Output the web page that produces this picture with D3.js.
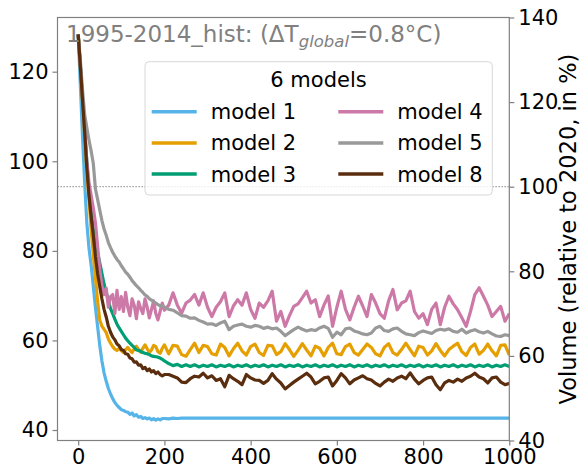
<!DOCTYPE html>
<html>
<head>
<meta charset="utf-8">
<script src="https://cdn.jsdelivr.net/npm/d3@7"></script>
<style>
  body { margin: 0; background: #fff; }
  text { font-family: "DejaVu Sans", sans-serif; }
</style>
</head>
<body>
<script>
// sampling years (5-yr steps to 200, then 10-yr steps)
const years = [
  0, 5, 10, 15, 20, 25, 30, 35, 40, 45, 50, 55, 60, 65, 70, 75, 80, 85, 90, 95,
  100, 105, 110, 115, 120, 125, 130, 135, 140, 145, 150, 155, 160, 165, 170, 175, 180, 185, 190, 195,
  200, 210, 220, 230, 240, 250, 260, 270, 280, 290, 300, 310, 320, 330, 340, 350, 360, 370, 380, 390,
  400, 410, 420, 430, 440, 450, 460, 470, 480, 490, 500, 510, 520, 530, 540, 550, 560, 570, 580, 590,
  600, 610, 620, 630, 640, 650, 660, 670, 680, 690, 700, 710, 720, 730, 740, 750, 760, 770, 780, 790,
  800, 810, 820, 830, 840, 850, 860, 870, 880, 890, 900, 910, 920, 930, 940, 950, 960, 970, 980, 990,
  1000
];

const modelNames = ["model 1", "model 2", "model 3", "model 4", "model 5", "model 8"];
const modelColors = ["#56B4E9", "#E69F00", "#009E73", "#CC79A7", "#999999", "#5a2d0e"];

// volume relative to 2020 (%)
const model1 = [
  136, 124, 112, 101, 91.5, 85.5, 81.5, 76.5, 71.5, 67, 62.5, 58.8, 56, 54, 52.3, 51, 49.9, 49, 48.3, 47.8,
  47.3, 47.1, 46.8, 46.7, 46.2, 46.5, 45.8, 46.1, 45.5, 45.7, 45.2, 45.4, 45.1, 45.3, 44.9, 45.2, 44.8, 45.1, 44.9, 45.2,
  45.2, 45.1, 45.3, 45.2, 45.3, 45.3, 45.3, 45.3, 45.3, 45.3, 45.3, 45.3, 45.3, 45.3, 45.3, 45.3, 45.3, 45.3, 45.3, 45.3,
  45.3, 45.3, 45.3, 45.3, 45.3, 45.3, 45.3, 45.3, 45.3, 45.3, 45.3, 45.3, 45.3, 45.3, 45.3, 45.3, 45.3, 45.3, 45.3, 45.3,
  45.3, 45.3, 45.3, 45.3, 45.3, 45.3, 45.3, 45.3, 45.3, 45.3, 45.3, 45.3, 45.3, 45.3, 45.3, 45.3, 45.3, 45.3, 45.3, 45.3,
  45.3, 45.3, 45.3, 45.3, 45.3, 45.3, 45.3, 45.3, 45.3, 45.3, 45.3, 45.3, 45.3, 45.3, 45.3, 45.3, 45.3, 45.3, 45.3, 45.3,
  45.3
];
const model2 = [
  136, 128, 120, 112, 104, 97, 90, 84, 78.5, 73, 68.5, 67, 66.3, 65.5, 64, 63, 62.2, 61.6, 61.3, 61.8,
  61.2, 60.8, 61.5, 62, 61.3, 60.8, 61.7, 62.3, 61.5, 60.9, 61.8, 62.6, 61.7, 60.8, 61.4, 62.5, 62.2, 61, 60.6, 61.8,
  62.6, 60.5, 62.5, 62.3, 60.3, 59.9, 61.5, 63.0, 60.8, 62.5, 62.2, 60.5, 60.2, 62.8, 62.0, 60.0, 61.7, 63.0, 61.2, 60.2,
  62.2, 62.8, 60.8, 60.1, 62.5, 62.4, 60.3, 61.0, 62.9, 61.5, 59.9, 61.3, 62.9, 61.4, 60.0, 62.3, 61.8, 60.0, 62.0, 63.0,
  60.5, 60.3, 62.2, 62.8, 60.8, 60.2, 61.5, 62.8, 62.0, 60.5, 60.0, 62.0, 62.9, 60.8, 60.2, 61.5, 63.0, 61.5, 60.0, 62.3,
  62.0, 60.2, 61.2, 62.9, 61.3, 60.0, 61.5, 62.3, 63.0, 61.0, 60.1, 62.0, 62.8, 60.4, 61.3, 62.8, 61.2, 60.0, 62.5, 62.6,
  60.2
];
const model3 = [
  136, 128.5, 121, 113.5, 106, 99.5, 94, 90, 87, 84.5, 82, 79.5, 77, 75, 73, 71.2, 70, 68.7, 67.5, 66.6,
  65.8, 65, 64.2, 63.6, 63, 62.5, 62, 61.4, 61.3, 61.1, 60.8, 60.6, 60.5, 60.3, 60, 59.9, 59.8, 59.7, 59.5, 59.2,
  58.8, 58.2, 57.7, 58.0, 57.5, 57.9, 57.5, 57.9, 57.4, 57.8, 57.5, 57.9, 57.4, 57.8, 57.5, 57.9, 57.4, 57.8, 57.5, 57.9,
  57.4, 57.8, 57.5, 57.9, 57.4, 57.8, 57.5, 57.9, 57.4, 57.8, 57.5, 57.9, 57.4, 57.8, 57.5, 57.9, 57.4, 57.8, 57.5, 57.9,
  57.4, 57.8, 57.5, 57.9, 57.4, 57.8, 57.5, 57.9, 57.4, 57.8, 57.5, 57.9, 57.4, 57.8, 57.5, 57.9, 57.4, 57.8, 57.5, 57.9,
  57.4, 57.8, 57.5, 57.9, 57.4, 57.8, 57.5, 57.9, 57.4, 57.8, 57.5, 57.9, 57.4, 57.8, 57.5, 57.9, 57.4, 57.8, 57.5, 57.9,
  57.5
];
const model4 = [
  136, 128.5, 121, 113.5, 106, 101, 98, 95, 91.5, 86, 80.5, 76.5, 74.5, 76, 71.5, 74, 74.5, 70, 75.5, 71,
  74, 70.5, 75, 71.5, 69.5, 73.5, 72, 68.8, 72.8, 71.2, 70, 73.5, 71.5, 69, 71, 73, 70, 68.5, 70.5, 72.5,
  70.8, 72.0, 74.9, 72.0, 70.1, 72.5, 73.2, 74.5, 72.0, 74.9, 71.5, 69.3, 71.5, 72.8, 74.9, 69.3, 71.8, 73.3, 72.0, 74.9,
  71.0, 68.9, 72.5, 71.5, 73.0, 75.3, 68.2, 70.5, 67.0, 69.5, 71.7, 72.3, 73.8, 75.3, 72.5, 73.3, 69.3, 72.0, 74.2, 67.0,
  71.5, 75.3, 71.0, 68.5, 71.5, 74.1, 71.8, 69.3, 74.5, 72.5, 70.0, 68.9, 73.0, 75.7, 70.9, 72.5, 73.0, 75.3, 70.5, 68.9,
  70.0, 67.4, 71.0, 72.5, 67.4, 71.5, 74.1, 72.3, 70.9, 69.0, 67.0, 70.5, 74.5, 76.1, 74.1, 72.0, 69.3, 70.5, 71.7, 68.2,
  70.0
];
const model5 = [
  136, 130, 123, 117, 114, 111, 108.5, 105.5, 99.5, 97, 94.5, 92, 90, 88.5, 86.8, 85.6, 84.5, 83.6, 82.8, 82.2,
  81.3, 80.6, 79.8, 79.3, 78.6, 77.8, 77.2, 76.6, 76.1, 75.5, 75, 74.4, 74.1, 73.5, 73.2, 72.8, 72.5, 72.1, 71.8, 71.9,
  71.5, 71.0, 70.8, 70.2, 69.5, 69.4, 68.9, 69.0, 68.4, 68.0, 67.5, 67.6, 67.2, 67.8, 68.2, 66.2, 67.0, 67.3, 67.5, 67.0,
  66.8, 67.2, 67.0, 66.5, 66.8, 66.4, 66.6, 65.8, 64.8, 65.5, 66.2, 66.8, 66.3, 65.9, 66.2, 66.0, 66.6, 67.0, 66.5, 64.4,
  65.6, 65.0, 66.4, 66.6, 65.9, 65.6, 65.2, 65.0, 65.4, 66.6, 67.0, 66.0, 65.8, 66.4, 66.6, 65.8, 65.2, 65.0, 64.8, 65.5,
  65.9, 65.6, 65.3, 66.0, 66.3, 66.1, 66.4, 65.8, 65.6, 66.3, 65.4, 65.9, 66.2, 65.7, 65.4, 65.8, 65.2, 64.7, 64.6, 65.0,
  64.8
];
const model8 = [
  136, 128.5, 120.5, 113, 104.5, 98, 93, 88.5, 83.5, 79.5, 76.4, 73.5, 71, 69.2, 67, 65.6, 64.5, 63.8, 62.8, 62.4,
  61.5, 61.3, 60.5, 60.4, 59.5, 59.3, 58.5, 58.6, 57.8, 57.9, 57, 57.3, 56.5, 56.9, 56.2, 56.5, 55.8, 56.2, 55.6, 55.3,
  55.6, 55.6, 55.2, 54.8, 53.8, 53.7, 54.6, 55.2, 55.0, 55.9, 54.8, 55.3, 54.2, 54.6, 52.7, 55.4, 54.6, 54.0, 53.2, 55.6,
  54.8, 54.3, 54.2, 53.5, 54.2, 55.8, 54.5, 53.6, 52.2, 53.0, 53.8, 54.5, 55.2, 55.9, 55.0, 53.4, 54.0, 54.8, 55.0, 52.9,
  54.2, 55.8, 54.8, 53.4, 54.3, 54.8, 55.3, 54.6, 54.3, 53.5, 52.9, 53.8, 54.5, 54.0, 54.8, 55.2, 54.6, 56.0, 54.5, 53.4,
  54.2, 54.8, 55.0, 53.2, 52.0, 53.6, 54.2, 53.8, 54.5, 54.0, 54.8, 55.2, 55.9, 55.0, 54.6, 53.6, 54.8, 55.0, 53.8, 53.2,
  53.5
];

const xTicks = [0, 200, 400, 600, 800, 1000];
const leftTicks = [40, 60, 80, 100, 120];
const rightTicks = [40, 60, 80, 100, 120, 140];
const titleMain = "1995-2014_hist: (\u0394T";
const titleSub = "global";
const titleEnd = "=0.8\u00b0C)";
const rightLabel = "Volume (relative to 2020, in %)";
const legendTitle = "6 models";

const W = 580, H = 472;
const margin = { left: 57.5, right: 70.7, top: 17.5, bottom: 31.5 };
const plotW = W - margin.left - margin.right,
      plotH = H - margin.top - margin.bottom;

const svg = d3.select("body").append("svg")
    .attr("width", W)
    .attr("height", H);

const x = d3.scaleLinear().domain([-48, 1000]).range([margin.left, margin.left + plotW]);
const yRight = d3.scaleLinear().domain([40, 140]).range([margin.top + plotH, margin.top]);
const yLeft = d3.scaleLinear().domain([37.66, 132.1]).range([margin.top + plotH, margin.top]);

svg.append("defs").append("clipPath").attr("id", "clip")
  .append("rect")
    .attr("x", margin.left).attr("y", margin.top)
    .attr("width", plotW).attr("height", plotH);

// reference line at 100 %
svg.append("line")
    .attr("x1", margin.left).attr("x2", margin.left + plotW)
    .attr("y1", yRight(100)).attr("y2", yRight(100))
    .attr("stroke", "#888")
    .attr("stroke-width", 1.2)
    .attr("stroke-dasharray", "1.2,1.8");

const series = [model1, model2, model3, model4, model5, model8];

const line = d3.line()
    .x((d, i) => x(years[i]))
    .y(d => yRight(d));

svg.append("g")
    .attr("clip-path", "url(#clip)")
  .selectAll("path")
  .data(series)
  .join("path")
    .attr("d", line)
    .attr("fill", "none")
    .attr("stroke", (d, i) => modelColors[i])
    .attr("stroke-width", 3.2)
    .attr("stroke-linejoin", "round");

// frame
svg.append("rect")
    .attr("x", margin.left).attr("y", margin.top)
    .attr("width", plotW).attr("height", plotH)
    .attr("fill", "none")
    .attr("stroke", "#808080")
    .attr("stroke-width", 1.2);

function styleAxis(g) {
    g.select(".domain").remove();
    g.selectAll(".tick line").attr("stroke", "#808080").attr("stroke-width", 1.2);
    g.selectAll(".tick text").attr("fill", "#000").attr("font-size", 21)
        .attr("font-family", "DejaVu Sans");
}

svg.append("g")
    .attr("transform", `translate(0,${margin.top + plotH})`)
    .call(d3.axisBottom(x).tickValues(xTicks).tickFormat(d3.format("d")).tickSize(5).tickPadding(4))
    .call(styleAxis);

svg.append("g")
    .attr("transform", `translate(${margin.left},0)`)
    .call(d3.axisLeft(yLeft).tickValues(leftTicks).tickSize(5).tickPadding(4))
    .call(styleAxis);

svg.append("g")
    .attr("transform", `translate(${margin.left + plotW},0)`)
    .call(d3.axisRight(yRight).tickValues(rightTicks).tickSize(5).tickPadding(4))
    .call(styleAxis);

// right axis label
svg.append("text")
    .attr("transform", `translate(576,${margin.top + plotH / 2}) rotate(-90)`)
    .attr("text-anchor", "middle")
    .attr("font-size", 22.5)
    .attr("fill", "#000")
    .text(rightLabel);

// title inside the axes
const title = svg.append("text")
    .attr("x", 66)
    .attr("y", 41.7)
    .attr("font-size", 23)
    .attr("fill", "#808080");
title.append("tspan").text(titleMain);
title.append("tspan").attr("dy", 5).attr("font-size", 16.5).attr("font-style", "italic").text(titleSub);
title.append("tspan").attr("dy", -5).text(titleEnd);

// legend
const legend = svg.append("g");
legend.append("rect")
    .attr("x", 145).attr("y", 61.7)
    .attr("width", 347.3).attr("height", 133.3)
    .attr("rx", 4)
    .attr("fill", "#fff").attr("fill-opacity", 0.8)
    .attr("stroke", "#d8d8d8");

legend.append("text")
    .attr("x", 318.5).attr("y", 86.7)
    .attr("text-anchor", "middle")
    .attr("font-size", 21)
    .text(legendTitle);

const items = legend.selectAll("g.item")
  .data(modelNames)
  .join("g")
    .attr("class", "item")
    .attr("transform", (d, i) => `translate(${i < 3 ? 151.7 : 338.3},${111.7 + (i % 3) * 31.2})`);

items.append("line")
    .attr("x1", 0).attr("x2", 45)
    .attr("stroke", (d, i) => modelColors[i])
    .attr("stroke-width", 3.5);

items.append("text")
    .attr("x", 59)
    .attr("y", 7.5)
    .attr("font-size", 21)
    .text(d => d);
</script>
</body>
</html>
